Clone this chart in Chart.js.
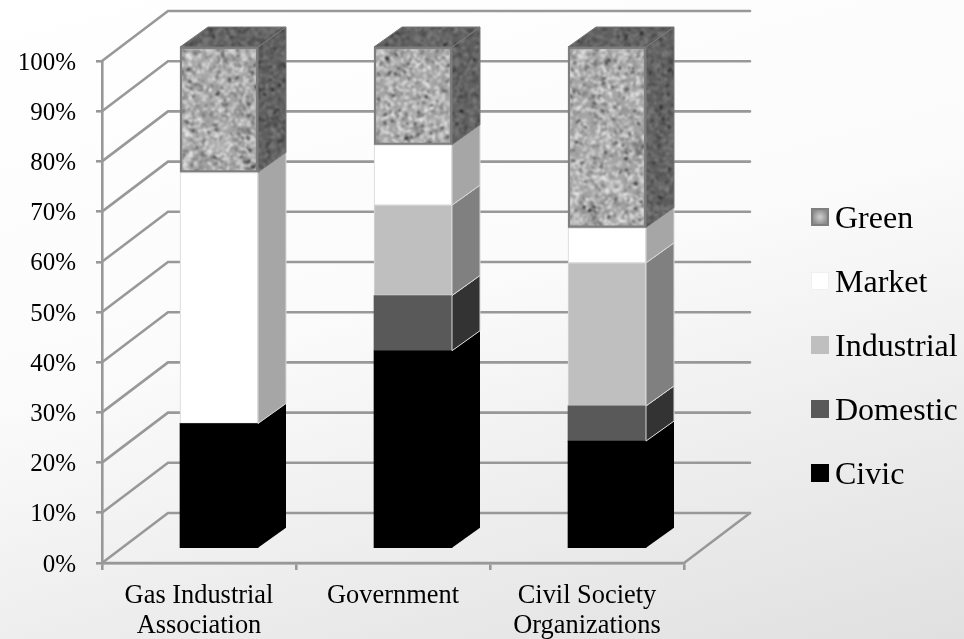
<!DOCTYPE html>
<html>
<head>
<meta charset="utf-8">
<script src="https://cdn.jsdelivr.net/npm/chart.js@4"></script>
<style>
html,body{margin:0;padding:0;width:964px;height:639px;overflow:hidden}
body{background:linear-gradient(165deg,#ffffff 0%,#fbfbfb 45%,#eeeeee 71%,#e0e0e0 100%)}
canvas{display:block;filter:blur(.4px)}
</style>
</head>
<body>
<canvas id="c" width="964" height="639"></canvas>
<script>
const categories = [["Gas Industrial","Association"],"Government",["Civil Society","Organizations"]];
const civic      = [25, 39.5, 21.5];
const domestic   = [0, 11, 7];
const industrial = [0, 18, 28.5];
const market     = [50, 12, 7];
const green      = [25, 19.5, 36];

const GRID = '#989898';
const SERIF = '"Liberation Serif"';

function mottled(size, base, shade){
  const raw = document.createElement('canvas'); raw.width = raw.height = size;
  const g = raw.getContext('2d');
  g.fillStyle = base; g.fillRect(0,0,size,size);
  let seed = 20231;
  const next = () => {
    seed = (seed + 0x6D2B79F5) | 0;
    let t = Math.imul(seed ^ (seed >>> 15), 1 | seed);
    t = (t + Math.imul(t ^ (t >>> 7), 61 | t)) ^ t;
    return ((t ^ (t >>> 14)) >>> 0) / 4294967296;
  };
  const tones = ['#d6d6d6','#ececec','#bebebe','#8e8e8e','#727272','#404040','#181818'];
  for(let i=0;i<size*size/8;i++){
    const t = next();
    const idx = t<.32?0:t<.46?1:t<.62?2:t<.8?3:t<.94?4:t<.985?5:6;
    g.fillStyle = tones[idx];
    g.beginPath();
    g.ellipse(next()*size,next()*size,1.2+next()*1.6,.7+next()*.7,next()*3.14,0,6.3);
    g.fill();
  }
  const cv = document.createElement('canvas'); cv.width = cv.height = size;
  const h = cv.getContext('2d');
  h.filter = 'blur(.8px)';
  h.drawImage(raw,0,0);
  h.filter = 'none';
  if(shade){ h.fillStyle = shade; h.fillRect(0,0,size,size); }
  return cv;
}
const ctxHelper = document.getElementById('c').getContext('2d');
const greenFront = ctxHelper.createPattern(mottled(512,'#a4a4a4',null),'repeat');
const greenSide  = ctxHelper.createPattern(mottled(512,'#a4a4a4','rgba(30,30,30,.52)'),'repeat');

function swatch(paint){
  const cv = document.createElement('canvas'); cv.width = 22; cv.height = 24;
  const g = cv.getContext('2d'); paint(g); return cv;
}
const swatches = [
  swatch(g=>{g.fillStyle='#000';g.fillRect(4,0,18,18);}),
  swatch(g=>{g.fillStyle='#595959';g.fillRect(4,0,18,18);}),
  swatch(g=>{g.fillStyle='#bfbfbf';g.fillRect(4,0,18,18);}),
  swatch(g=>{g.fillStyle='#ffffff';g.fillRect(4,0,18,18);g.strokeStyle='#f0f0f0';g.strokeRect(4.5,.5,17,17);}),
  swatch(g=>{
    g.fillStyle='#7f7f7f';g.fillRect(4,0,18,18);
    const r=g.createRadialGradient(13,9,1,13,9,8);
    r.addColorStop(0,'#c8c8c8');r.addColorStop(1,'#8c8c8c');
    g.fillStyle=r;g.fillRect(6,2,14,14);
  })
];

const sideFills = ['#000000','#333333','#808080','#a6a6a6',greenSide];

const DEPTH = {wallX:66, wallY:50, barX:20, barY:14, sideX:28, sideY:20};

const threeD = {
  id:'threeD',
  afterLayout(chart){
    const l = chart.legend;
    const w = l.width, h = l.height;
    l.left = 785; l.right = 785 + w;
    l.top = 172; l.bottom = 172 + h;
    const y = chart.scales.y;
    if(!y._shifted){
      const orig = y.drawLabels;
      y.drawLabels = function(a){
        chart.ctx.save(); chart.ctx.translate(0,2);
        orig.call(this,a);
        chart.ctx.restore();
      };
      y._shifted = true;
    }
  },
  beforeDatasetsDraw(chart){
    const {ctx, scales:{y}, chartArea:a} = chart;
    ctx.save();
    ctx.strokeStyle = GRID; ctx.lineWidth = 2.6; ctx.lineCap='round';
    y.ticks.forEach(t=>{
      const py = y.getPixelForValue(t.value);
      ctx.beginPath();
      ctx.moveTo(a.left, py);
      ctx.lineTo(a.left+DEPTH.wallX, py-DEPTH.wallY);
      ctx.lineTo(a.right+DEPTH.wallX, py-DEPTH.wallY);
      ctx.stroke();
    });
    const py0 = y.getPixelForValue(0);
    ctx.beginPath();
    ctx.moveTo(a.left, py0);
    ctx.lineTo(a.right, py0);
    ctx.lineTo(a.right+DEPTH.wallX, py0-DEPTH.wallY);
    ctx.stroke();
    ctx.restore();
    ctx.save();
    ctx.translate(DEPTH.barX, -DEPTH.barY);
  },
  afterDatasetsDraw(chart){
    const {ctx} = chart;
    const n = chart.data.datasets.length;
    for(let i=0;i<n;i++){
      const meta = chart.getDatasetMeta(i);
      meta.data.forEach(bar=>{
        const p = bar.getProps(['x','y','base','width'],true);
        if(Math.abs(p.base-p.y) < .5) return;
        const r = p.x+p.width/2;
        ctx.beginPath();
        ctx.moveTo(r,p.y);
        ctx.lineTo(r+DEPTH.sideX,p.y-DEPTH.sideY);
        ctx.lineTo(r+DEPTH.sideX,p.base-DEPTH.sideY);
        ctx.lineTo(r,p.base);
        ctx.closePath();
        ctx.fillStyle = sideFills[i];
        ctx.fill();
        if(i>0){ ctx.strokeStyle = i===4?'#7a7a7a':'#d8d8d8'; ctx.lineWidth=1; ctx.stroke(); }
        if(i===n-1){
          const l = p.x-p.width/2;
          ctx.beginPath();
          ctx.moveTo(l,p.y);
          ctx.lineTo(l+DEPTH.sideX,p.y-DEPTH.sideY);
          ctx.lineTo(r+DEPTH.sideX,p.y-DEPTH.sideY);
          ctx.lineTo(r,p.y);
          ctx.closePath();
          ctx.fillStyle = greenSide;
          ctx.fill();
          ctx.strokeStyle='#7a7a7a'; ctx.lineWidth=1; ctx.stroke();
        }
      });
    }
    ctx.restore();
  }
};

const makeSet = (label,data,bg,border,bw)=>({
  label,data,backgroundColor:bg,borderColor:border,borderWidth:bw,borderSkipped:false,
  barThickness:78
});

new Chart(document.getElementById('c'),{
  type:'bar',
  data:{
    labels:categories,
    datasets:[
      makeSet('Civic',civic,'#000000','#000000',0),
      makeSet('Domestic',domestic,'#595959','#595959',0),
      makeSet('Industrial',industrial,'#bfbfbf','#d9d9d9',1),
      makeSet('Market',market,'#ffffff','#d4d4d4',1),
      makeSet('Green',green,greenFront,'#7f7f7f',2.5)
    ]
  },
  options:{
    responsive:false,
    devicePixelRatio:1,
    animation:false,
    layout:{autoPadding:false,padding:{left:0,top:61,right:280,bottom:0}},
    plugins:{
      tooltip:{enabled:false},
      legend:{
        position:'chartArea',
        align:'start',
        reverse:true,
        labels:{
          usePointStyle:true,
          boxWidth:2,boxHeight:18,
          padding:32,
          color:'#000',
          font:{family:SERIF,size:32},
          generateLabels(chart){
            return Chart.defaults.plugins.legend.labels.generateLabels(chart).map((it,i)=>
              Object.assign(it,{pointStyle:swatches[it.datasetIndex],hidden:false,lineWidth:0}));
          }
        }
      }
    },
    scales:{
      x:{
        stacked:true,
        afterFit(s){s.height=76;},
        border:{display:true,color:GRID,width:2.6},
        grid:{display:true,drawOnChartArea:false,drawTicks:true,tickLength:7,color:GRID,lineWidth:2.6,offset:true},
        ticks:{color:'#000',font:{family:SERIF,size:26.4,lineHeight:1.14},maxRotation:0,minRotation:0,autoSkip:false,padding:11}
      },
      y:{
        stacked:true,
        min:0,max:100,
        afterFit(s){s.width=102;},
        border:{display:true,color:GRID,width:2.6},
        grid:{display:true,drawOnChartArea:false,drawTicks:true,tickLength:6,color:GRID,lineWidth:2.6},
        ticks:{stepSize:10,color:'#000',font:{family:SERIF,size:25},padding:20,callback:v=>v+'%'}
      }
    }
  },
  plugins:[threeD]
});
</script>
</body>
</html>
